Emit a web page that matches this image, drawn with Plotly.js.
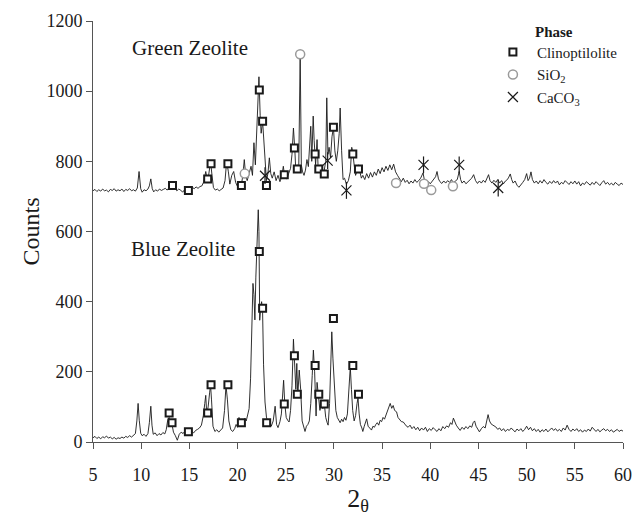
<!DOCTYPE html>
<html>
<head>
<meta charset="utf-8">
<script src="https://cdn.plot.ly/plotly-3.0.1.min.js"></script>
<style>html,body{margin:0;padding:0;background:#fff;}#chart{width:633px;height:516px;}</style>
</head>
<body>
<div id="chart"></div>
<script>
// ---- data (2-theta, counts) ----
const greenPattern = [[5.0,716],[5.2,720],[5.4,714],[5.6,719],[5.8,715],[6.0,721],[6.2,716],[6.4,718],[6.6,713],[6.8,720],[7.0,717],[7.2,722],[7.4,715],[7.6,719],[7.8,716],[8.0,721],[8.2,714],[8.4,720],[8.6,717],[8.8,722],[9.0,716],[9.2,719],[9.4,715],[9.6,724],[9.78,771],[9.95,722],[10.1,712],[10.3,719],[10.5,716],[10.7,721],[10.85,730],[11.0,750],[11.15,722],[11.3,713],[11.5,719],[11.7,715],[11.9,721],[12.1,717],[12.3,720],[12.5,723],[12.7,718],[12.9,726],[13.1,733],[13.3,729],[13.5,722],[13.7,716],[13.9,721],[14.1,718],[14.3,712],[14.5,719],[14.7,716],[14.9,714],[15.1,721],[15.3,726],[15.5,722],[15.7,727],[15.9,723],[16.1,728],[16.3,730],[16.5,742],[16.7,771],[16.85,748],[17.0,760],[17.2,800],[17.35,760],[17.5,725],[17.7,718],[17.9,721],[18.1,716],[18.3,720],[18.5,724],[18.7,745],[18.87,800],[19.05,770],[19.2,735],[19.4,760],[19.6,771],[19.8,740],[20.0,728],[20.2,722],[20.4,733],[20.55,760],[20.7,805],[20.85,758],[21.0,745],[21.2,765],[21.4,786],[21.55,760],[21.7,853],[21.85,790],[22.0,880],[22.1,960],[22.22,1041],[22.35,930],[22.45,880],[22.6,914],[22.72,860],[22.85,780],[23.0,745],[23.15,765],[23.3,810],[23.45,765],[23.6,752],[23.8,770],[24.0,745],[24.2,760],[24.4,742],[24.6,758],[24.75,786],[24.9,755],[25.1,750],[25.3,765],[25.5,780],[25.65,820],[25.8,895],[25.95,830],[26.05,770],[26.2,790],[26.35,780],[26.5,1105],[26.62,790],[26.75,770],[26.9,760],[27.05,775],[27.2,805],[27.35,785],[27.5,840],[27.6,900],[27.7,800],[27.85,929],[27.95,860],[28.1,790],[28.25,862],[28.35,790],[28.5,775],[28.65,790],[28.8,770],[29.0,775],[29.15,800],[29.26,981],[29.38,820],[29.5,840],[29.65,810],[29.8,870],[29.95,897],[30.1,830],[30.25,800],[30.4,830],[30.55,880],[30.65,952],[30.8,830],[30.95,748],[31.1,752],[31.3,735],[31.5,745],[31.7,770],[31.85,840],[31.96,825],[32.1,790],[32.25,760],[32.4,772],[32.55,790],[32.7,770],[32.85,752],[33.0,760],[33.2,748],[33.4,765],[33.6,752],[33.8,768],[34.0,755],[34.2,770],[34.4,760],[34.6,778],[34.8,765],[35.0,782],[35.2,770],[35.4,786],[35.6,774],[35.8,790],[36.0,776],[36.2,792],[36.4,770],[36.6,760],[36.8,750],[37.0,742],[37.2,752],[37.4,740],[37.6,746],[37.8,736],[38.0,744],[38.2,738],[38.4,748],[38.6,740],[38.8,745],[39.0,752],[39.25,767],[39.4,745],[39.6,738],[39.8,742],[40.0,736],[40.2,743],[40.4,748],[40.55,756],[40.7,771],[40.85,750],[41.0,742],[41.2,737],[41.4,744],[41.6,738],[41.8,745],[42.0,740],[42.2,748],[42.4,738],[42.6,744],[42.8,748],[43.0,771],[43.15,748],[43.3,738],[43.5,744],[43.7,736],[43.9,742],[44.1,748],[44.3,752],[44.5,762],[44.7,745],[44.9,737],[45.1,744],[45.3,738],[45.5,746],[45.7,740],[45.9,755],[46.05,762],[46.2,745],[46.4,738],[46.6,746],[46.8,740],[47.0,748],[47.2,738],[47.4,745],[47.6,736],[47.8,744],[48.0,748],[48.15,755],[48.3,764],[48.45,748],[48.6,738],[48.8,744],[49.0,732],[49.2,726],[49.4,735],[49.6,740],[49.8,748],[50.0,765],[50.15,745],[50.3,752],[50.45,770],[50.6,748],[50.8,738],[51.0,744],[51.2,736],[51.4,745],[51.6,738],[51.8,748],[52.0,740],[52.2,735],[52.4,743],[52.6,737],[52.8,745],[53.0,738],[53.2,744],[53.4,733],[53.6,740],[53.8,736],[54.0,745],[54.2,738],[54.4,734],[54.6,742],[54.8,736],[55.0,744],[55.2,735],[55.4,742],[55.6,730],[55.8,738],[56.0,734],[56.2,742],[56.4,736],[56.6,732],[56.8,740],[57.0,734],[57.2,742],[57.4,736],[57.6,731],[57.8,739],[58.0,745],[58.2,735],[58.4,740],[58.6,733],[58.8,738],[59.0,732],[59.2,740],[59.4,735],[59.6,731],[59.8,738],[60.0,734]];

const bluePattern = [[5.0,12],[5.2,16],[5.4,10],[5.6,14],[5.8,9],[6.0,15],[6.2,12],[6.4,17],[6.6,11],[6.8,14],[7.0,9],[7.2,13],[7.4,8],[7.6,12],[7.8,10],[8.0,14],[8.2,11],[8.4,16],[8.6,13],[8.8,18],[9.0,14],[9.2,19],[9.4,24],[9.55,60],[9.68,110],[9.8,62],[9.95,25],[10.1,18],[10.3,22],[10.5,16],[10.7,24],[10.85,55],[11.0,102],[11.12,48],[11.25,22],[11.45,26],[11.65,18],[11.85,24],[12.05,20],[12.25,27],[12.45,23],[12.6,35],[12.75,62],[12.9,70],[13.05,45],[13.2,50],[13.35,28],[13.55,18],[13.75,5],[13.95,22],[14.15,28],[14.35,24],[14.55,32],[14.75,26],[14.9,30],[15.05,24],[15.25,30],[15.45,26],[15.65,33],[15.85,36],[16.05,40],[16.25,48],[16.45,75],[16.6,110],[16.7,133],[16.8,80],[16.95,100],[17.1,140],[17.2,162],[17.3,120],[17.45,45],[17.65,30],[17.85,35],[18.05,28],[18.25,33],[18.45,40],[18.65,90],[18.8,162],[18.95,120],[19.1,60],[19.3,35],[19.5,30],[19.7,38],[19.85,50],[20.0,42],[20.15,70],[20.3,55],[20.45,62],[20.6,50],[20.75,68],[20.9,60],[21.05,75],[21.2,95],[21.35,180],[21.5,350],[21.6,452],[21.7,420],[21.8,348],[21.9,470],[22.0,580],[22.1,630],[22.15,662],[22.22,600],[22.3,347],[22.4,380],[22.5,400],[22.6,370],[22.7,220],[22.85,114],[23.0,71],[23.15,55],[23.3,62],[23.5,45],[23.7,60],[23.9,102],[24.05,50],[24.2,41],[24.4,58],[24.55,80],[24.7,150],[24.78,176],[24.9,110],[25.05,70],[25.2,62],[25.35,57],[25.5,90],[25.65,160],[25.8,293],[25.92,200],[26.05,150],[26.15,224],[26.25,130],[26.4,205],[26.55,150],[26.7,60],[26.85,40],[27.0,30],[27.15,45],[27.3,50],[27.45,60],[27.6,110],[27.75,190],[27.87,262],[28.0,200],[28.15,74],[28.25,170],[28.4,130],[28.55,90],[28.7,120],[28.85,95],[29.0,110],[29.15,70],[29.3,55],[29.4,48],[29.55,110],[29.68,240],[29.78,314],[29.9,237],[30.05,160],[30.2,90],[30.35,70],[30.5,60],[30.65,55],[30.8,65],[30.95,58],[31.1,70],[31.25,62],[31.4,80],[31.55,140],[31.7,214],[31.82,150],[31.95,90],[32.1,60],[32.25,75],[32.4,110],[32.5,125],[32.62,80],[32.75,50],[32.9,40],[33.0,30],[33.15,45],[33.3,55],[33.4,66],[33.55,45],[33.7,40],[33.9,34],[34.05,45],[34.2,42],[34.35,50],[34.5,55],[34.65,48],[34.8,62],[34.95,58],[35.1,70],[35.25,65],[35.4,78],[35.55,85],[35.7,100],[35.84,110],[36.0,96],[36.15,104],[36.3,90],[36.5,86],[36.65,70],[36.8,66],[37.0,58],[37.2,57],[37.35,50],[37.5,46],[37.7,42],[37.9,48],[38.1,38],[38.3,44],[38.5,35],[38.7,42],[38.9,32],[39.1,40],[39.3,34],[39.5,42],[39.7,30],[39.9,38],[40.1,33],[40.3,41],[40.5,35],[40.7,30],[40.9,38],[41.1,32],[41.3,44],[41.5,38],[41.7,46],[41.9,42],[42.1,55],[42.25,50],[42.4,68],[42.55,55],[42.7,48],[42.9,40],[43.1,33],[43.3,42],[43.5,36],[43.7,44],[43.9,38],[44.1,46],[44.3,42],[44.45,55],[44.6,60],[44.75,45],[44.95,36],[45.1,29],[45.3,38],[45.5,44],[45.7,40],[45.85,55],[46.0,78],[46.15,60],[46.3,52],[46.5,48],[46.65,45],[46.8,43],[47.0,36],[47.2,40],[47.4,32],[47.6,38],[47.8,30],[48.0,36],[48.2,33],[48.4,40],[48.6,34],[48.8,29],[49.0,37],[49.2,32],[49.4,38],[49.6,30],[49.8,36],[50.0,45],[50.2,35],[50.4,42],[50.6,32],[50.8,38],[51.0,30],[51.2,36],[51.4,28],[51.6,35],[51.8,30],[52.0,37],[52.2,29],[52.4,34],[52.6,40],[52.8,33],[53.0,38],[53.2,31],[53.4,36],[53.6,30],[53.8,40],[54.0,34],[54.2,48],[54.4,36],[54.6,30],[54.8,37],[55.0,32],[55.2,38],[55.4,30],[55.6,35],[55.8,28],[56.0,34],[56.2,30],[56.4,37],[56.6,31],[56.8,42],[57.0,35],[57.2,30],[57.4,36],[57.6,29],[57.8,34],[58.0,38],[58.2,32],[58.4,36],[58.6,30],[58.8,35],[59.0,28],[59.2,33],[59.4,36],[59.6,30],[59.8,34],[60.0,31]];

// phase markers
const clinoGreen = [[13.25,731],[14.9,717],[16.9,750],[17.25,793],[19.0,793],[20.4,731],[22.26,1003],[22.6,914],[23.0,731],[24.85,762],[25.9,838],[26.2,778],[28.05,821],[28.43,778],[29.0,764],[29.95,897],[31.96,821],[32.55,778]];
const clinoBlue = [[12.9,83],[13.2,55],[14.9,29],[16.9,83],[17.25,163],[19.0,163],[20.4,55],[22.26,543],[22.6,381],[23.02,55],[24.85,108],[25.9,246],[26.2,136],[28.05,218],[28.43,136],[29.0,108],[29.95,352],[31.96,218],[32.55,136]];
const sio2Green = [[20.75,765],[26.5,1105],[36.45,738],[39.35,736],[40.1,718],[42.35,729]];
const caco3Green = [[22.85,759],[29.35,802],[31.3,717],[39.3,790],[43.0,790],[47.05,724]];

const xTicks = [5,10,15,20,25,30,35,40,45,50,55,60];
const yTicks = [0,200,400,600,800,1000,1200];
const sampleLabels = [{name:'Green Zeolite', x:8.8, y:1122},{name:'Blue Zeolite', x:8.75, y:550}];

const FONT = '"Liberation Serif", "Times New Roman", serif';
const col = (a,i) => a.map(p => p[i]);

const traces = [
  {x: col(greenPattern,0), y: col(greenPattern,1), mode:'lines', line:{color:'#1a1a1a', width:0.9}, showlegend:false, hoverinfo:'skip'},
  {x: col(bluePattern,0), y: col(bluePattern,1), mode:'lines', line:{color:'#1a1a1a', width:0.9}, showlegend:false, hoverinfo:'skip'},
  {x: col(clinoGreen,0).concat(col(clinoBlue,0)), y: col(clinoGreen,1).concat(col(clinoBlue,1)), mode:'markers', name:'Clinoptilolite',
   marker:{symbol:'square', size:7, color:'#ffffff', line:{color:'#1a1a1a', width:2}}},
  {x: col(sio2Green,0), y: col(sio2Green,1), mode:'markers', name:'SiO<sub>2</sub>',
   marker:{symbol:'circle', size:9, color:'#ffffff', line:{color:'#9a9a9a', width:1.5}}},
  {x: col(caco3Green,0), y: col(caco3Green,1), mode:'markers', name:'CaCO<sub>3</sub>',
   marker:{symbol:'x-thin-open', size:10, color:'#1a1a1a', line:{color:'#1a1a1a', width:1.2}}},
  {x: col(caco3Green,0), y: col(caco3Green,1), mode:'markers', showlegend:false, hoverinfo:'skip',
   marker:{symbol:'line-ns-open', size:12, color:'#1a1a1a', line:{color:'#1a1a1a', width:1.2}}}
];

const layout = {
  width:633, height:516,
  margin:{l:93, r:10, t:21, b:74},
  paper_bgcolor:'#ffffff', plot_bgcolor:'#ffffff',
  font:{family:FONT, color:'#1a1a1a', size:18},
  showlegend:true,
  legend:{x:0.747, y:0.965, xanchor:'left', yanchor:'top', bgcolor:'rgba(0,0,0,0)',
          font:{family:FONT, size:15, color:'#1a1a1a'}, itemwidth:38, tracegroupgap:0},
  xaxis:{range:[5,60], tickvals:xTicks, ticktext:xTicks.map(String), showgrid:false, zeroline:false,
         showline:true, linecolor:'#555', linewidth:1, ticks:'outside', ticklen:6, tickcolor:'#555',
         ticklabelstandoff:10, tickfont:{family:FONT, size:18, color:'#1a1a1a'},
         title:{text:'2<sub>θ</sub>', font:{family:FONT, size:26, color:'#1a1a1a'}, standoff:6}},
  yaxis:{range:[0,1200], tickvals:yTicks, ticktext:yTicks.map(String), showgrid:false, zeroline:false,
         showline:true, linecolor:'#555', linewidth:1, ticks:'outside', ticklen:6, tickcolor:'#555',
         tickfont:{family:FONT, size:18, color:'#1a1a1a'},
         title:{text:'Counts', font:{family:FONT, size:24, color:'#1a1a1a'}, standoff:0}},
  annotations: sampleLabels.map(s => ({x:s.x, y:s.y, xref:'x', yref:'y', text:s.name, showarrow:false,
       xanchor:'left', yanchor:'middle', font:{family:FONT, size:21, color:'#1a1a1a'}})).concat([
       {x:0.831, y:0.974, xref:'paper', yref:'paper', text:'<b>Phase</b>', showarrow:false,
        xanchor:'left', yanchor:'middle', font:{family:FONT, size:15, color:'#1a1a1a'}}])
};

Plotly.newPlot('chart', traces, layout, {displayModeBar:false, staticPlot:true});
</script>
</body>
</html>
